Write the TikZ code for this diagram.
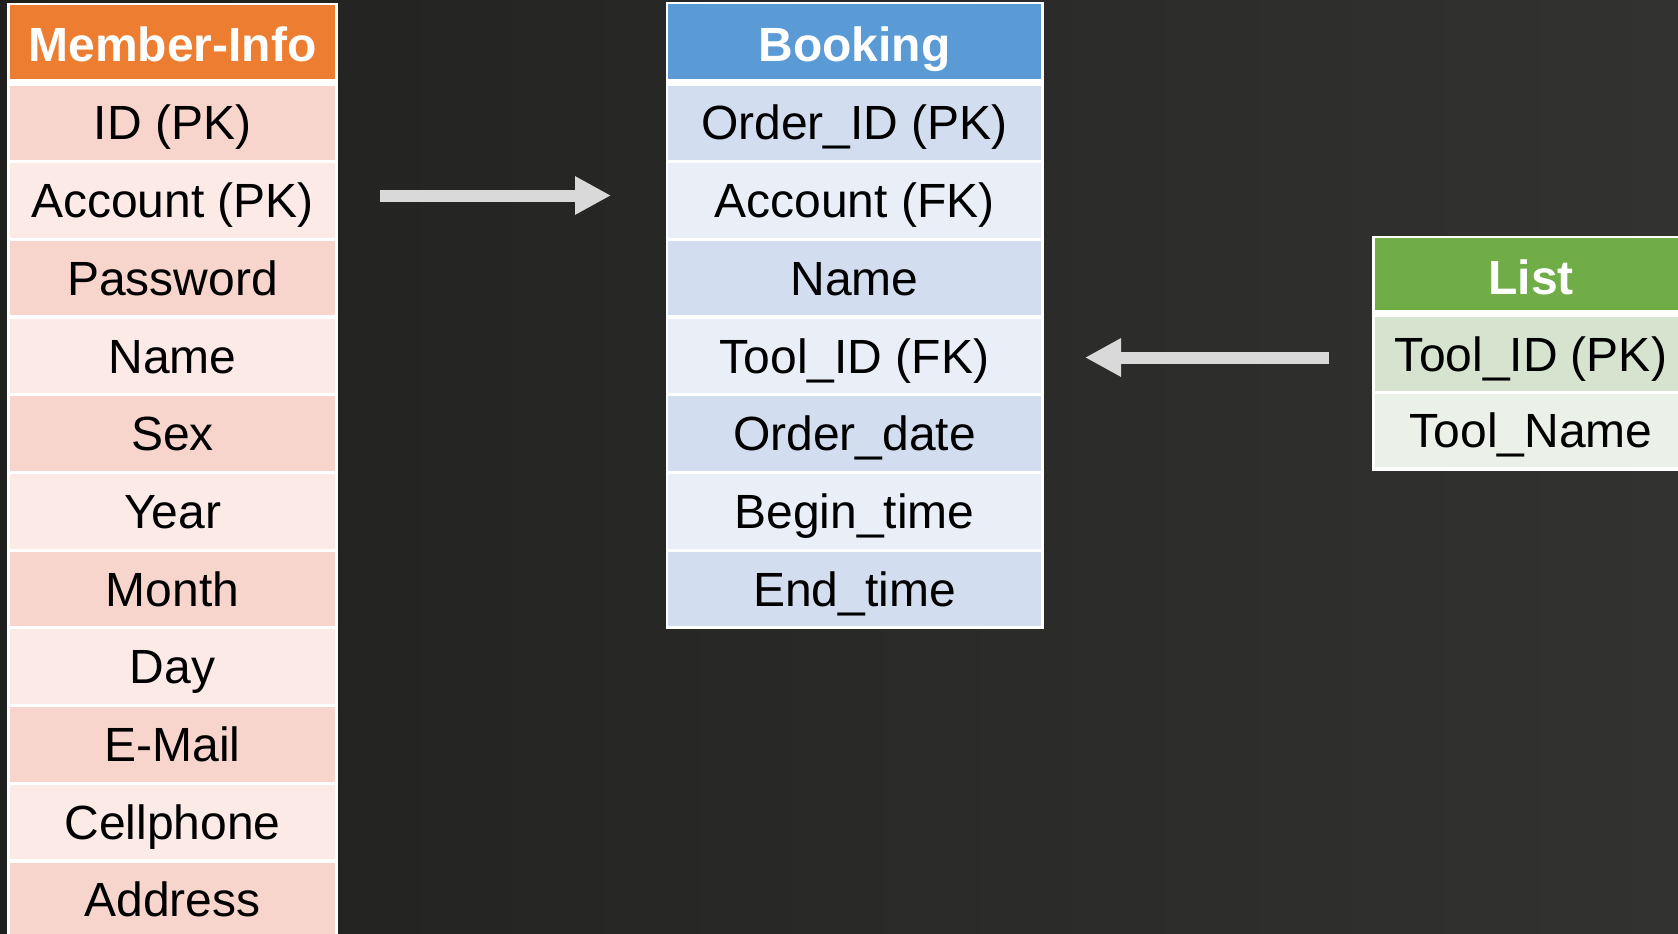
\documentclass[tikz,border=0pt]{standalone}
\usepackage{fontspec}
\setmainfont{Liberation Sans}
\usetikzlibrary{arrows.meta}
\definecolor{bgleft}{RGB}{32,32,30}
\definecolor{bgright}{RGB}{50,50,48}
\definecolor{mhead}{HTML}{ED7D31}
\definecolor{mdark}{HTML}{F8D5CC}
\definecolor{mlight}{HTML}{FBEAE6}
\definecolor{bhead}{HTML}{5B9BD5}
\definecolor{bdark}{HTML}{D2DEEF}
\definecolor{blight}{HTML}{EAEFF7}
\definecolor{lhead}{HTML}{70AD47}
\definecolor{ldark}{HTML}{D5E3CF}
\definecolor{llight}{HTML}{EBF1E9}
\definecolor{arrowgray}{HTML}{D9D9D9}
\tikzset{
  cell/.style={minimum height=74.5pt, inner sep=0pt, text height=34.4pt, text depth=0pt,
    font=\fontsize{48}{58}\selectfont, text=black},
  headcell/.style={cell, font=\fontsize{48}{58}\selectfont\bfseries, text=white, text height=40pt},
  mcell/.style={minimum width=325pt},
  bcell/.style={minimum width=373pt},
  lcell/.style={minimum width=312pt},
  tableframe/.style={fill=white},
  blockarrow/.style={draw=arrowgray, line width=12pt, -{Triangle[length=36pt,width=36pt]}}
}
\begin{document}
\begin{tikzpicture}[x=1pt, y=-1pt]
\useasboundingbox (0,0) rectangle (1678,934);
\clip (0,0) rectangle (1678,934);
\shade[left color=bgleft, right color=bgright] (0,0) rectangle (1678,934);

% Member-Info table
\fill[tableframe] (7,3) rectangle (338,940);
\node[headcell, mcell, fill=mhead, minimum height=74pt] (mh) at (172.5,42) {Member-Info};
\foreach \t/\c [count=\i from 0] in {ID (PK)/mdark, Account (PK)/mlight, Password/mdark,
  Name/mlight, Sex/mdark, Year/mlight, Month/mdark, Day/mlight, E-Mail/mdark,
  Cellphone/mlight, Address/mdark}
  \node[cell, mcell, fill=\c] (m\i) at (172.5,{122.75+77.7*\i}) {\t};

% Booking table
\fill[tableframe] (665.5,2) rectangle (1044,628.5);
\node[headcell, bcell, fill=bhead, minimum height=75pt] (bh) at (854.5,41.5) {Booking};
\foreach \t/\c [count=\i from 0] in {Order\_ID (PK)/bdark, Account (FK)/blight, Name/bdark,
  Tool\_ID (FK)/blight, Order\_date/bdark, Begin\_time/blight, End\_time/bdark}
  \node[cell, bcell, fill=\c] (b\i) at (854.5,{122.75+77.7*\i}) {\t};

% List table
\fill[tableframe] (1372,236) rectangle (1700,470.5);
\node[headcell, lcell, fill=lhead, minimum height=72pt] (lh) at (1531,274) {List};
\node[cell, lcell, fill=ldark, minimum height=73.5pt] (l0) at (1531,354) {Tool\_ID (PK)};
\node[cell, lcell, fill=llight, minimum height=73.5pt] (l1) at (1531,430.5) {Tool\_Name};

% Arrows
\coordinate (a1s) at (380,195.5);
\coordinate (a1e) at (611,195.5);
\coordinate (a2s) at (1329,357.5);
\coordinate (a2e) at (1085,357.5);
\draw[blockarrow] (a1s) -- (a1e);
\draw[blockarrow] (a2s) -- (a2e);
\end{tikzpicture}
\end{document}
